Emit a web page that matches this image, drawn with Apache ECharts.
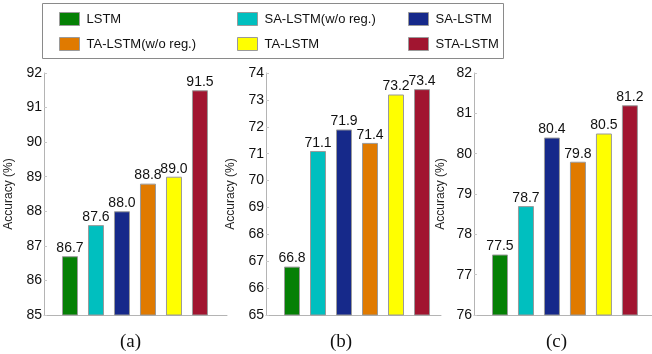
<!DOCTYPE html>
<html>
<head>
<meta charset="utf-8">
<script src="https://cdn.jsdelivr.net/npm/echarts@6/dist/echarts.min.js"></script>
<style>
  html, body { margin: 0; padding: 0; background: #fff; }
  #chart { width: 652px; height: 354px; }
</style>
</head>
<body>
<div id="chart"></div>
<script>
// Methods compared in every panel, in bar order
const methods = ['LSTM', 'SA-LSTM(w/o reg.)', 'SA-LSTM', 'TA-LSTM(w/o reg.)', 'TA-LSTM', 'STA-LSTM'];
const methodColors = ['#058005', '#00bfbf', '#16298a', '#e07a00', '#ffff00', '#a11530'];

// Accuracy (%) per panel
const accA = [86.7, 87.6, 88.0, 88.8, 89.0, 91.5];
const accB = [66.8, 71.1, 71.9, 71.4, 73.2, 73.4];
const accC = [77.5, 78.7, 80.4, 79.8, 80.5, 81.2];

// Y-axis ranges per panel
const yRangeA = [85, 92];
const yRangeB = [65, 74];
const yRangeC = [76, 82];

const panelCaptions = ['(a)', '(b)', '(c)'];

const panels = [
  { data: accA, range: yRangeA, left: 44, right: 425, xMax: 7.04, nameGap: 29, cap: 130 },
  { data: accB, range: yRangeB, left: 266, right: 211, xMax: 6.73, nameGap: 29, cap: 340 },
  { data: accC, range: yRangeC, left: 474, right: 0, xMax: 6.85, nameGap: 27, cap: 556 }
];

const font = 'Liberation Sans, Arial, sans-serif';
const axisGray = '#b4b4b4';

const grid = [], xAxis = [], yAxis = [], series = [];

panels.forEach((p, i) => {
  grid.push({ left: p.left, right: p.right, top: 73, bottom: 39, containLabel: false });
  xAxis.push({
    type: 'value', gridIndex: i, min: 0, max: p.xMax,
    axisLine: { show: true, onZero: false, lineStyle: { color: axisGray, width: 1 } },
    axisTick: { show: false }, axisLabel: { show: false }, splitLine: { show: false }
  });
  yAxis.push({
    type: 'value', gridIndex: i, min: p.range[0], max: p.range[1], interval: 1,
    name: 'Accuracy (%)', nameLocation: 'middle', nameRotate: 90, nameGap: p.nameGap,
    nameTextStyle: { fontFamily: font, fontSize: 12, color: '#222' },
    axisLine: { show: true, lineStyle: { color: axisGray, width: 1 } },
    axisTick: { show: true, inside: true, length: 3, lineStyle: { color: '#c8c8c8' } },
    axisLabel: { fontFamily: font, fontSize: 14, color: '#111', margin: 2 },
    splitLine: { show: false }
  });
  series.push({
    type: 'bar', name: panelCaptions[i], xAxisIndex: i, yAxisIndex: i,
    barWidth: 16,
    data: p.data.map((v, k) => ({
      value: [k + 1, v],
      itemStyle: { color: methodColors[k], borderColor: '#9a9a9a', borderWidth: 1 }
    })),
    label: {
      show: true, position: 'top', distance: 1,
      fontFamily: font, fontSize: 14, color: '#111',
      formatter: (prm) => prm.value[1].toFixed(1)
    },
    animation: false
  });
});

// Legend entries (no data of their own; bars carry the values)
methods.forEach((m, k) => {
  series.push({ type: 'line', name: m, xAxisIndex: 0, yAxisIndex: 0, data: [], color: methodColors[k] });
});

const legendPos = [
  [59, 12], [237, 12], [408, 12],
  [59, 37], [237, 37], [408, 37]
];
const legend = methods.map((m, k) => ({
  left: legendPos[k][0], top: legendPos[k][1], padding: 0,
  itemWidth: 20, itemHeight: 13, selectedMode: false,
  data: [{ name: m, icon: 'rect', itemStyle: { color: methodColors[k], borderColor: '#9a9a9a', borderWidth: 1 } }],
  textStyle: { fontFamily: font, fontSize: 13, color: '#111', padding: [0, 0, 0, 2] }
}));

const graphic = [
  { type: 'rect', shape: { x: 42.5, y: 3.5, width: 461, height: 55 },
    style: { fill: 'none', stroke: '#8a8a8a', lineWidth: 1 }, silent: true }
].concat(panels.map((p, i) => ({
  type: 'text', left: p.cap - 10, top: 333,
  style: { text: panelCaptions[i], fontFamily: 'Liberation Serif, Times New Roman, serif', fontSize: 19, fill: '#111' }
})));

const chart = echarts.init(document.getElementById('chart'));
chart.setOption({
  animation: false,
  backgroundColor: '#fff',
  grid, xAxis, yAxis, series, legend, graphic
});
</script>
</body>
</html>
